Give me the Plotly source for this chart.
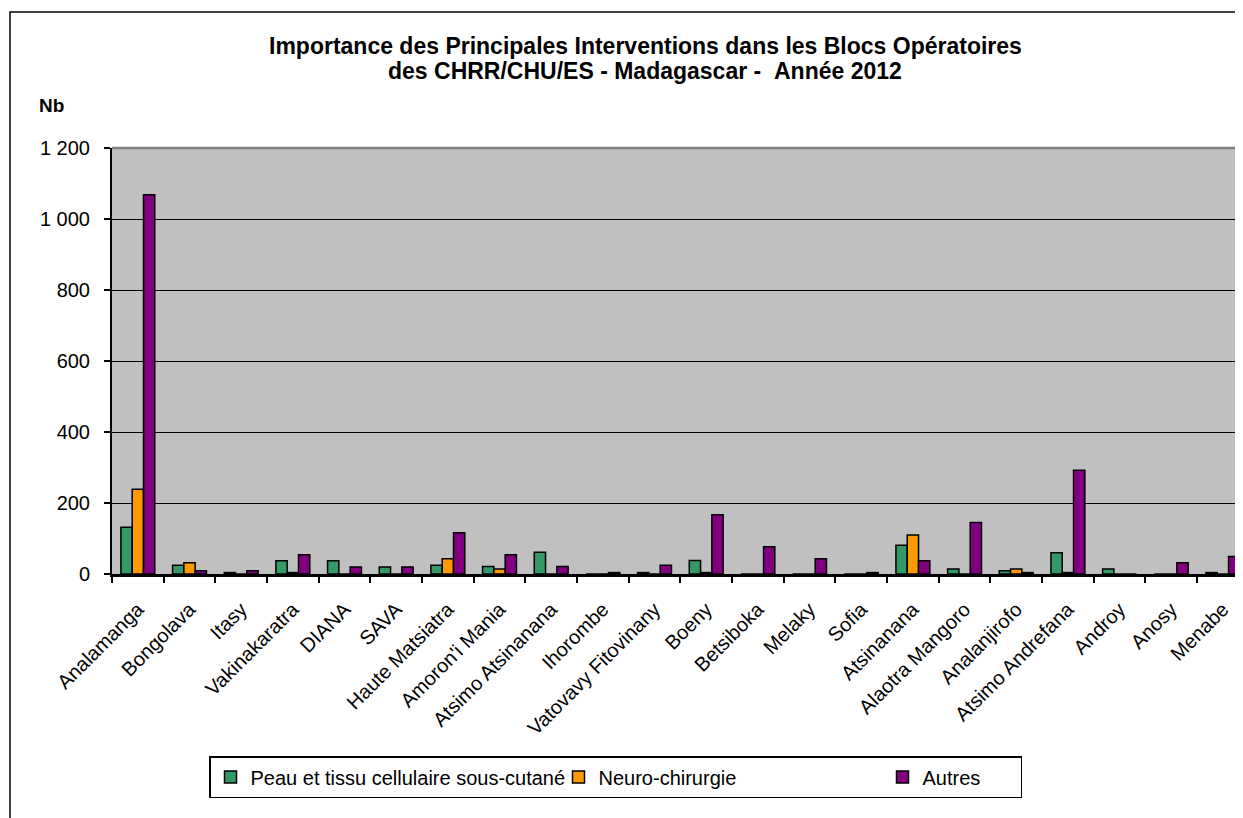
import plotly.graph_objects as go

categories = ["Analamanga", "Bongolava", "Itasy", "Vakinakaratra", "DIANA", "SAVA",
              "Haute Matsiatra", "Amoron'i Mania", "Atsimo Atsinanana", "Ihorombe",
              "Vatovavy Fitovinany", "Boeny", "Betsiboka", "Melaky", "Sofia",
              "Atsinanana", "Alaotra Mangoro", "Analanjirofo", "Atsimo Andrefana",
              "Androy", "Anosy", "Menabe"]

peau = [132, 25, 4, 37, 37, 20, 25, 21, 61, 0, 4, 38, 0, 0, 0, 81, 14, 9, 60, 14, 0, 4]
neuro = [239, 32, 0, 4, 0, 0, 43, 14, 0, 0, 0, 4, 0, 0, 0, 110, 0, 14, 4, 0, 0, 0]
autres = [1068, 9, 9, 54, 20, 20, 116, 54, 21, 4, 25, 167, 77, 43, 4, 37, 145, 4, 292, 0, 32, 49]

series_names = ["Peau et tissu cellulaire sous-cutané", "Neuro-chirurgie", "Autres"]
series_colors = ["#339966", "#FF9900", "#800080"]
legend_widths = [303, 279, 93]

y_tickvals = [0, 200, 400, 600, 800, 1000, 1200]
y_ticktext = ["0", "200", "400", "600", "800", "1\u00a0000", "1\u00a0200"]

title_line1 = "<b>Importance des Principales Interventions dans les Blocs Opératoires</b>"
title_line2 = "<b>des CHRR/CHU/ES - Madagascar - \u00a0Année 2012</b>"

FONT = "Liberation Sans, Arial, sans-serif"

# page is offset by the 8px body margin
OFF = 8
W, H = 1243 - OFF, 818 - OFF
ML = 112 - OFF
MT = 148 - OFF
MB = H - (574 - OFF)
MR = 0
PW = W - ML - MR
PH = H - MT - MB


def px_x(px):
    """page x pixel -> paper x"""
    return (px - OFF - ML) / PW


def px_y(py):
    """page y pixel -> paper y"""
    return (H - MB - (py - OFF)) / PH


fig = go.Figure()
for name, vals, col, lw in zip(series_names, [peau, neuro, autres], series_colors, legend_widths):
    fig.add_trace(go.Bar(
        x=categories, y=vals, name=name, legendwidth=lw,
        marker=dict(color=col, line=dict(color="black", width=1.5)),
    ))

cat_span = PW / 51.67

fig.update_layout(
    width=W, height=H,
    margin=dict(l=ML, r=MR, t=MT, b=MB, autoexpand=False),
    paper_bgcolor="white",
    plot_bgcolor="#C0C0C0",
    barmode="group",
    bargap=0.344,
    bargroupgap=0,
    font=dict(family=FONT, size=20, color="black"),
    showlegend=True,
    legend=dict(orientation="h", x=px_x(209), y=px_y(756), xanchor="left", yanchor="top",
                bgcolor="white", bordercolor="black", borderwidth=1.5,
                font=dict(family=FONT, size=20, color="black")),
    xaxis=dict(
        type="category",
        range=[-0.5, -0.5 + cat_span],
        tickangle=-45,
        tickson="boundaries",
        ticks="outside", ticklen=6, tickwidth=1.5, tickcolor="black",
        ticklabelstandoff=13,
        showline=True, linecolor="black", linewidth=2.5,
        showgrid=False,
        tickfont=dict(family=FONT, size=20, color="black"),
    ),
    yaxis=dict(
        range=[0, 1200],
        tickvals=y_tickvals, ticktext=y_ticktext,
        ticks="outside", ticklen=6, tickwidth=1.5, tickcolor="black",
        ticklabelstandoff=10,
        showline=True, linecolor="black", linewidth=2,
        showgrid=True, gridcolor="black", gridwidth=1.4,
        zeroline=False,
        tickfont=dict(family=FONT, size=20, color="black"),
    ),
    annotations=[
        dict(text=title_line1, xref="paper", yref="paper", x=px_x(645), y=px_y(46),
             xanchor="center", yanchor="middle", showarrow=False,
             font=dict(family=FONT, size=23, color="black")),
        dict(text=title_line2, xref="paper", yref="paper", x=px_x(645), y=px_y(71),
             xanchor="center", yanchor="middle", showarrow=False,
             font=dict(family=FONT, size=23, color="black")),
        dict(text="<b>Nb</b>", xref="paper", yref="paper",
             x=px_x(37), y=px_y(106), xanchor="left", yanchor="middle",
             showarrow=False, font=dict(family=FONT, size=19, color="black")),
    ],
    shapes=[
        dict(type="line", xref="paper", yref="paper", x0=0, x1=1.05, y0=1, y1=1,
             line=dict(color="#808080", width=2.5), layer="above"),
        dict(type="rect", xref="paper", yref="paper",
             x0=px_x(10), x1=px_x(1300), y0=px_y(900), y1=px_y(12),
             line=dict(color="black", width=1.5), fillcolor="rgba(0,0,0,0)", layer="above"),
    ],
)

fig.write_html("out.html")
